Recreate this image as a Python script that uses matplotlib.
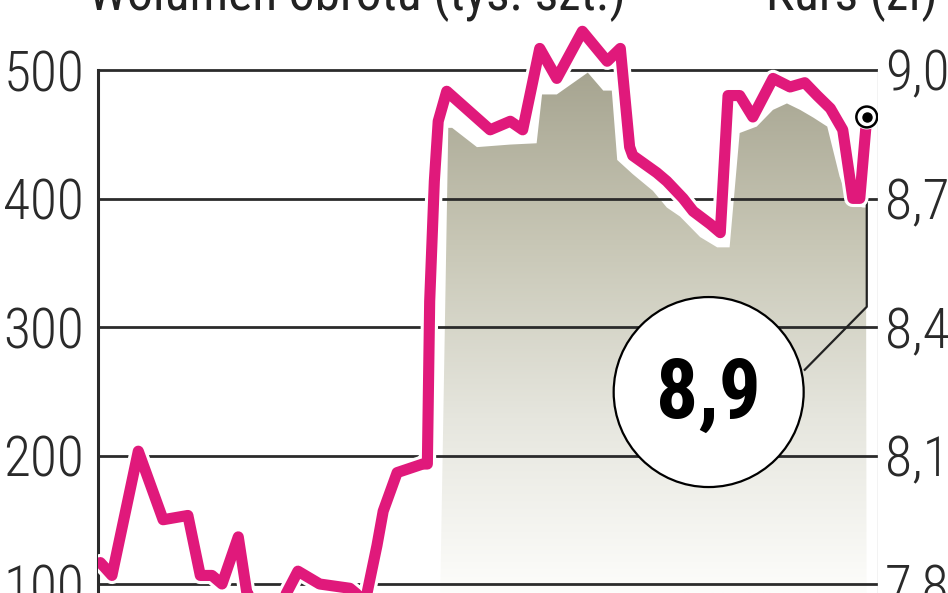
import numpy as np
import matplotlib
matplotlib.use("Agg")
import matplotlib.pyplot as plt
import matplotlib.patheffects as pe
from matplotlib import font_manager as fm
from matplotlib.patches import Circle
from matplotlib.colors import LinearSegmentedColormap

# narrow font if there is one, otherwise DejaVu
wanted = ['Roboto Condensed', 'Liberation Sans Narrow', 'Barlow Condensed',
          'PT Sans Narrow', 'Archivo Narrow', 'Open Sans Condensed',
          'Encode Sans Condensed', 'Saira Condensed', 'DejaVu Sans']
have = {f.name for f in fm.fontManager.ttflist}
narrow = next(n for n in wanted if n in have or n == 'DejaVu Sans')
plt.rcParams['font.family'] = [narrow, 'DejaVu Sans']

# kurs (zł) - sesje
price_x = [0.3, 1.8, 5.2, 8.4, 11.6, 13.2, 14.7, 16.0, 18.1, 19.2, 21.2, 23.5,
           25.8, 28.6, 32.5, 34.5, 36.0, 36.8, 38.6, 41.9, 42.5, 42.8, 43.4,
           43.9, 45.0, 50.6, 53.2, 54.8, 57.0, 59.2, 62.5, 65.7, 67.4, 68.6,
           69.0, 72.1, 73.4, 75.5, 76.8, 79.0, 80.3, 81.3, 82.8, 84.5, 87.1,
           89.3, 91.2, 92.8, 94.5, 96.1, 97.4, 98.3, 99.2]
price = [7.85, 7.82, 8.11, 7.95, 7.96, 7.82, 7.82, 7.80, 7.91, 7.78, 7.74, 7.75,
         7.83, 7.80, 7.79, 7.76, 7.89, 7.97, 8.06, 8.08, 8.08, 8.46, 8.74,
         8.88, 8.95, 8.86, 8.88, 8.86, 9.05, 8.98, 9.09, 9.02, 9.05, 8.82,
         8.80, 8.76, 8.74, 8.70, 8.67, 8.64, 8.62, 8.94, 8.94, 8.89, 8.98,
         8.96, 8.97, 8.94, 8.91, 8.86, 8.70, 8.70, 8.89]

# wolumen obrotu (tys. szt.)
vol_x = [43.9, 45.2, 45.7, 48.9, 53.2, 56.6, 57.3, 59.2, 63.2, 65.2, 66.3, 67.0,
         69.0, 71.6, 73.4, 75.1, 77.7, 79.9, 81.5, 82.8, 85.0, 87.1, 88.9, 90.6,
         92.3, 94.1, 95.7, 97.0, 98.7, 99.1, 99.2]
volume = [0, 455, 455, 440, 442, 443, 481, 481, 498, 484, 484, 430,
          419, 406, 393, 386, 370, 362, 362, 451, 456, 469, 474, 469,
          463, 456, 417, 396, 393, 393, 0]

vol_ticks = [100, 200, 300, 400, 500]
price_ticks = [7.8, 8.1, 8.4, 8.7, 9.0]
price_labels = ['7,8', '8,1', '8,4', '8,7', '9,0']
last_label = '8,9'

pink = '#e0197b'
grid_col = '#2b2b2b'
tick_size = 40 if narrow != 'DejaVu Sans' else 30

fig = plt.figure(figsize=(9.48, 5.93), dpi=100)
ax = fig.add_axes([98 / 948, 0, 780 / 948, 1])
for s in ax.spines.values():
    s.set_visible(False)
ax.set_xticks([])
ax.set_yticks(vol_ticks)
ax.set_yticklabels([str(v) for v in vol_ticks], fontsize=tick_size,
                   color='#2a2a2a', fontweight='light')
ax.tick_params(axis='y', length=0, pad=10)
ax.patch.set_alpha(0)

# volume area with vertical gradient
area = ax.fill_between(vol_x, 0, volume, color='none', lw=0)
cmap = LinearSegmentedColormap.from_list('vol', ['#fdfdfb', '#e6e6de', '#c8c7b6', '#a6a490'])
grad = np.linspace(0, 1, 256).reshape(-1, 1)
img = ax.imshow(grad, cmap=cmap, aspect='auto', origin='lower',
                extent=[vol_x[0], vol_x[-1], 93, 500], zorder=1)
img.set_clip_path(area.get_paths()[0], transform=ax.transData)
ax.set_xlim(0, 100.65)
ax.set_ylim(93.0, 554.5)

# grid lines and left axis
for v in vol_ticks:
    ax.axhline(v, color=grid_col, lw=2, zorder=2)
ax.plot([0, 0], [93.0, 500], color=grid_col, lw=2.2, zorder=2, clip_on=False)
ax.plot([100.65, 100.65], [93.0, 500], color='#c4c4c4', lw=1, zorder=2)

ax2 = ax.twinx()
ax2.set_ylim(7.779, 9.163)
for s in ax2.spines.values():
    s.set_visible(False)
ax2.set_yticks(price_ticks)
ax2.set_yticklabels(price_labels, fontsize=tick_size, color='#2a2a2a',
                    fontweight='light')
ax2.tick_params(axis='y', length=0, pad=5)

# leader from last point to bubble
lx, ly = price_x[-1], price[-1]
ax2.plot([lx, lx, 91.2], [ly, 8.447, 8.30], color='#222222', lw=1.6, zorder=3)

ax2.plot(price_x, price, color=pink, lw=8, solid_joinstyle='round',
         solid_capstyle='round', zorder=4,
         path_effects=[pe.withStroke(linewidth=12.5, foreground='white')])

ax2.plot([lx], [ly], 'o', ms=15, mfc='white', mec='black', mew=1.8, zorder=5,
         path_effects=[pe.withStroke(linewidth=3, foreground='white')])
ax2.plot([lx], [ly], 'o', ms=6.5, color='black', zorder=6)

fig.canvas.draw()
cx, cy = ax2.transData.transform((78.8, 8.248))
fig.patches.append(Circle((cx, cy), 95, transform=None, facecolor='white',
                          edgecolor='black', lw=1.6, zorder=7))
fig.text(cx / 948, cy / 593 - 0.005, last_label, ha='center', va='center',
         fontsize=60, fontweight='bold', color='black', zorder=8)

fig.text(88 / 948, 1 - 10 / 593, 'Wolumen obrotu (tys. szt.)', fontsize=37,
         ha='left', va='baseline', color='#222222')
fig.text(766 / 948, 1 - 10 / 593, 'Kurs (zł)', fontsize=37,
         ha='left', va='baseline', color='#222222')

fig.savefig('out.png', dpi=100)
